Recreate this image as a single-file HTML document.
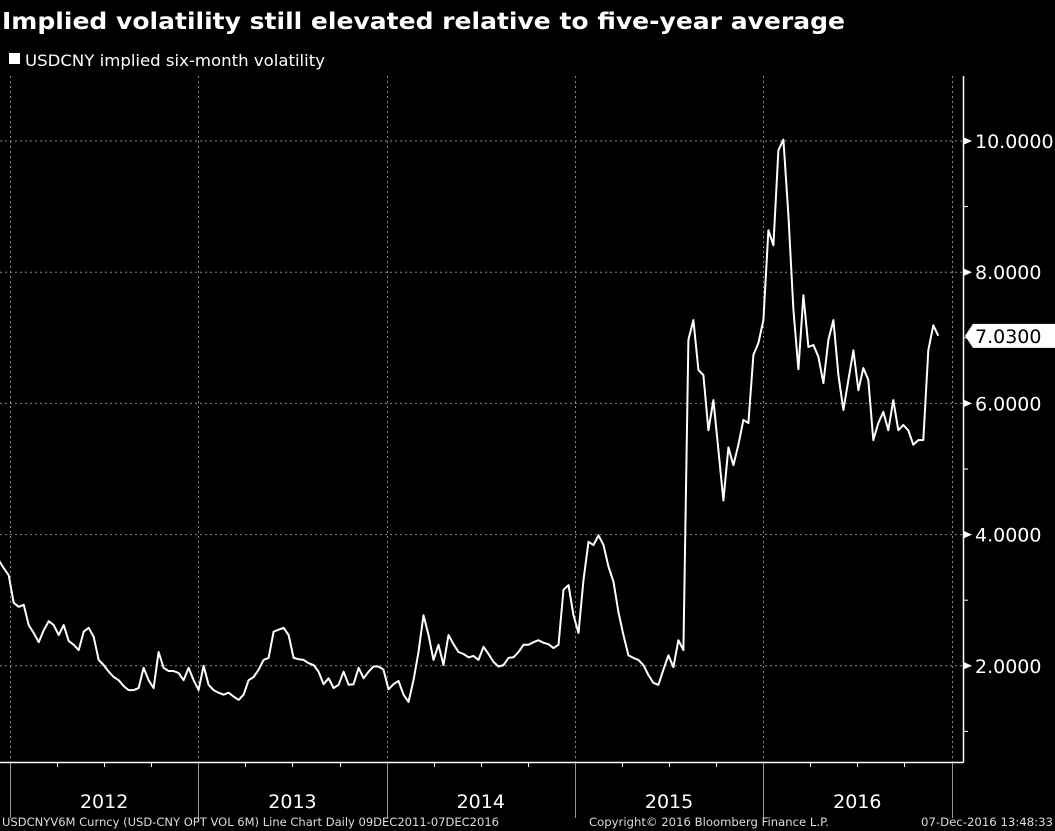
<!DOCTYPE html>
<html><head><meta charset="utf-8">
<style>
html,body{margin:0;padding:0;background:#000;}
svg{display:block;}
text{font-family:"DejaVu Sans","Liberation Sans",sans-serif;}
</style></head>
<body>
<svg id="chart" width="1055" height="831" viewBox="0 0 1055 831">
<rect x="0" y="0" width="1055" height="831" fill="#000"/>
<text x="2" y="29" font-size="23" font-weight="bold" fill="#fff" textLength="843" lengthAdjust="spacingAndGlyphs">Implied volatility still elevated relative to five-year average</text>
<rect x="9" y="53" width="11" height="11" fill="#fff"/>
<text x="25" y="66" font-size="16" fill="#fff" textLength="300" lengthAdjust="spacingAndGlyphs">USDCNY implied six-month volatility</text>
<g id="grid"></g>
<g id="axes"></g>
<g id="series"></g>
<text x="2" y="826" font-size="11.5" fill="#ddd" textLength="497" lengthAdjust="spacingAndGlyphs">USDCNYV6M Curncy (USD-CNY OPT VOL 6M) Line Chart  Daily 09DEC2011-07DEC2016</text>
<text x="589" y="826" font-size="11.5" fill="#ddd" textLength="240" lengthAdjust="spacingAndGlyphs">Copyright© 2016 Bloomberg Finance L.P.</text>
<text x="921" y="826" font-size="11.5" fill="#ddd" textLength="132" lengthAdjust="spacingAndGlyphs">07-Dec-2016 13:48:33</text>
</svg>
<script>
const yearLabels = ["2012","2013","2014","2015","2016"];
const yTicks = [2,4,6,8,10];
const yTickLabels = ["2.0000","4.0000","6.0000","8.0000","10.0000"];
const startYear = 2011.94;
const endYear = 2016.93;
const lastValue = 7.03;
const values = [3.61,3.49,3.38,2.96,2.90,2.93,2.62,2.50,2.36,2.54,2.68,2.62,2.47,2.62,2.38,2.32,2.24,2.52,2.58,2.44,
2.09,2.01,1.91,1.83,1.78,1.69,1.63,1.63,1.66,1.97,1.78,1.66,2.21,1.97,1.92,1.92,1.89,1.78,1.97,1.78,
1.63,2.00,1.71,1.63,1.59,1.56,1.59,1.53,1.48,1.56,1.78,1.83,1.94,2.09,2.12,2.52,2.55,2.58,2.47,2.12,
2.10,2.09,2.04,2.01,1.91,1.72,1.81,1.66,1.71,1.91,1.71,1.72,1.97,1.81,1.91,1.99,1.99,1.94,1.64,1.72,
1.77,1.56,1.45,1.78,2.21,2.77,2.47,2.09,2.32,2.01,2.47,2.33,2.21,2.18,2.13,2.15,2.09,2.29,2.18,2.06,
1.99,2.01,2.12,2.13,2.21,2.32,2.32,2.36,2.39,2.35,2.33,2.27,2.32,3.16,3.23,2.77,2.50,3.31,3.89,3.84,
3.99,3.84,3.51,3.28,2.82,2.47,2.16,2.12,2.09,2.01,1.86,1.74,1.71,1.94,2.16,1.98,2.39,2.24,6.97,7.27,
6.51,6.43,5.59,6.05,5.29,4.52,5.33,5.06,5.37,5.75,5.70,6.74,6.92,7.27,8.64,8.41,9.86,10.02,8.87,7.43,
6.52,7.65,6.86,6.89,6.71,6.31,6.97,7.27,6.43,5.90,6.36,6.81,6.20,6.54,6.36,5.44,5.70,5.87,5.59,6.05,
5.59,5.67,5.59,5.37,5.44,5.44,6.81,7.19,7.03];

const NS = "http://www.w3.org/2000/svg";
const plotTop = 76, plotBottom = 762, plotRight = 963;
function xScale(t){ return 10 + (t - 2012) * 188.3; }
function yScale(v){ return 141 + (10 - v) * 65.6; }
function mk(tag, attrs, parent){
  const e = document.createElementNS(NS, tag);
  for (const k in attrs) e.setAttribute(k, attrs[k]);
  parent.appendChild(e);
  return e;
}
const grid = document.getElementById('grid');
const axes = document.getElementById('axes');
const series = document.getElementById('series');

yTicks.forEach((v, i) => {
  const y = yScale(v);
  const g = mk('line', {x1:0, x2:plotRight, y1:y, y2:y, stroke:'#888', 'stroke-width':1, 'stroke-dasharray':'2,3'}, grid);
  
  
  const tk = mk('path', {d:`M${plotRight} ${y-4} L${plotRight+9} ${y} L${plotRight} ${y+4} Z`, fill:'#fff'}, axes);
  
  
  const t = mk('text', {x:975, y:y+7, 'font-size':19, fill:'#fff'}, axes);
  t.textContent = yTickLabels[i];
  
  
});
[1,3,5,7,9].forEach(v => {
  const y = yScale(v);
  const m = mk('line', {x1:plotRight, x2:plotRight+5, y1:y, y2:y, stroke:'#fff', 'stroke-width':1}, axes);
  
  
});
for (let yr = 2012; yr <= 2017; yr++) {
  const x = Math.round(xScale(yr)) + 0.5;
  const g = mk('line', {x1:x, x2:x, y1:plotTop, y2:plotBottom, stroke:'#888', 'stroke-width':1, 'stroke-dasharray':'2,3'}, grid);
  
  
  const d = mk('line', {x1:x, x2:x, y1:plotBottom, y2:818, stroke:'#999', 'stroke-width':1}, axes);
  
  
  if (yr < 2017) {
    for (let q = 1; q < 4; q++) {
      const qx = Math.round(xScale(yr + q/4)) + 0.5;
      const qt = mk('line', {x1:qx, x2:qx, y1:plotBottom, y2:plotBottom+5, stroke:'#fff', 'stroke-width':1}, axes);
      
      
    }
  }
}
yearLabels.forEach((lab) => {
  const yr = +lab;
  const t = mk('text', {x:xScale(yr + 0.5), y:808, 'font-size':19, fill:'#fff', 'text-anchor':'middle', 'font-family':'"Liberation Sans",sans-serif'}, axes);
  t.textContent = lab;
  
  
});
const ax1 = mk('line', {x1:0, x2:plotRight+0.5, y1:plotBottom+0.5, y2:plotBottom+0.5, stroke:'#fff', 'stroke-width':1.5}, axes);


const ax2 = mk('line', {x1:plotRight+0.5, x2:plotRight+0.5, y1:plotTop, y2:plotBottom+0.5, stroke:'#fff', 'stroke-width':1.5}, axes);



const n = values.length;
let d = '';
values.forEach((v, i) => {
  const t = startYear + i * (endYear - startYear) / (n - 1);
  d += (i ? 'L' : 'M') + xScale(t).toFixed(1) + ' ' + yScale(v).toFixed(1);
});
const line = mk('path', {d:d, fill:'none', stroke:'#fff', 'stroke-width':2, 'stroke-linejoin':'round'}, series);



const ly = yScale(lastValue);
const tag = mk('path', {d:`M965 ${ly} L973 ${ly-12} L1055 ${ly-12} L1055 ${ly+12} L973 ${ly+12} Z`, fill:'#fff'}, axes);


const tt = mk('text', {x:975, y:ly+7, 'font-size':19, fill:'#000'}, axes);
tt.textContent = lastValue.toFixed(4);


</script>
</body></html>
